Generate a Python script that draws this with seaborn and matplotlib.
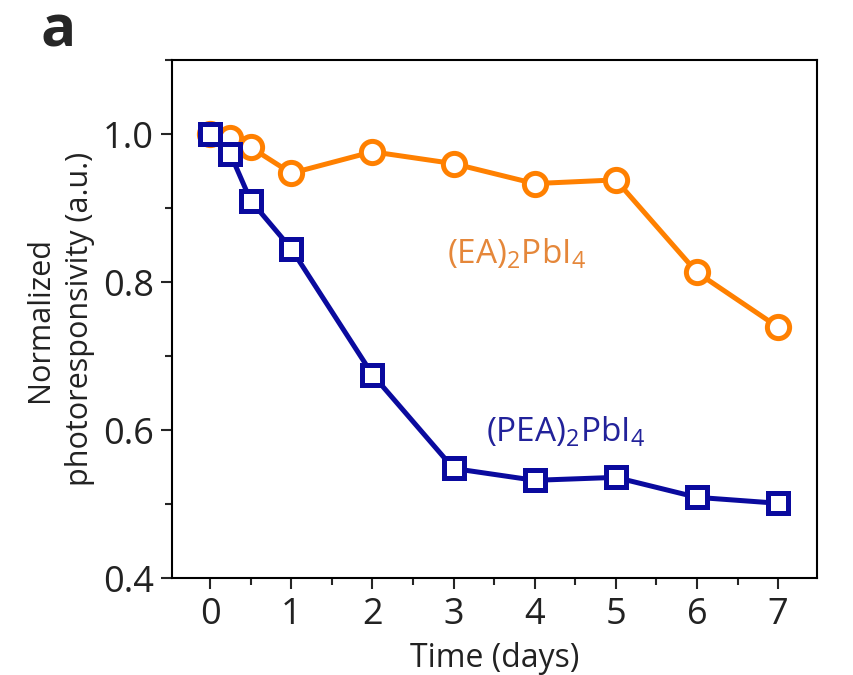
import numpy as np
import pandas as pd
import matplotlib
matplotlib.use("Agg")
import matplotlib.pyplot as plt
from matplotlib.ticker import MultipleLocator
import seaborn as sns

sns.set_style("ticks")
plt.rcParams["font.family"] = ["Open Sans", "DejaVu Sans"]
plt.rcParams["mathtext.fontset"] = "custom"
plt.rcParams["mathtext.rm"] = "Open Sans"

# data
days = [0, 0.25, 0.5, 1, 2, 3, 4, 5, 6, 7]
ea_resp = [1.0, 0.995, 0.982, 0.947, 0.976, 0.960, 0.933, 0.938, 0.813, 0.739]
pea_resp = [1.0, 0.973, 0.910, 0.845, 0.675, 0.548, 0.532, 0.536, 0.509, 0.501]

orange = "#FF8000"
navy = "#0A0A9E"

fig = plt.figure(figsize=(8.54, 6.75), dpi=100)
ax = fig.add_axes([0.2014, 0.1437, 0.7553, 0.7674])

sns.lineplot(x=days, y=ea_resp, ax=ax, color=orange, lw=3.6, marker="o",
             markersize=16, markerfacecolor="white", markeredgecolor=orange,
             markeredgewidth=3.6)
sns.lineplot(x=days, y=pea_resp, ax=ax, color=navy, lw=3.6, marker="s",
             markersize=15, markerfacecolor="white", markeredgecolor=navy,
             markeredgewidth=3.6)

ax.text(3.78, 0.838, r"(EA)$_{\mathregular{2}}$PbI$_{\mathregular{4}}$",
        color="#E5873A", fontsize=24, ha="center", va="center")
ax.text(4.38, 0.597, r"(PEA)$_{\mathregular{2}}$PbI$_{\mathregular{4}}$",
        color="#22229A", fontsize=24, ha="center", va="center")

ax.set_xlim(-0.47, 7.48)
ax.set_ylim(0.4, 1.1)
ax.set_xticks(range(0, 8))
ax.set_yticks([0.4, 0.6, 0.8, 1.0])
ax.xaxis.set_minor_locator(MultipleLocator(0.5))
ax.yaxis.set_minor_locator(MultipleLocator(0.1))
ax.tick_params(which="major", direction="out", length=8, width=1.5, labelsize=26,
               labelcolor="#222222", top=False, right=False)
ax.tick_params(which="minor", direction="out", length=5, width=1.5,
               top=False, right=False)
ax.tick_params(axis="x", pad=6)
ax.tick_params(axis="y", pad=5)
for spine in ax.spines.values():
    spine.set_visible(True)
    spine.set_linewidth(1.5)
    spine.set_color("black")

ax.set_xlabel("Time (days)", fontsize=23, labelpad=6, color="#222222")
ax.set_ylabel("Normalized\nphotoresponsivity (a.u.)", fontsize=22, labelpad=6,
              linespacing=1.4, color="#222222")

fig.text(0.068, 0.953, "a", fontsize=42, fontweight="bold", ha="center", va="center")

fig.savefig("out.png", dpi=100, facecolor="white")
